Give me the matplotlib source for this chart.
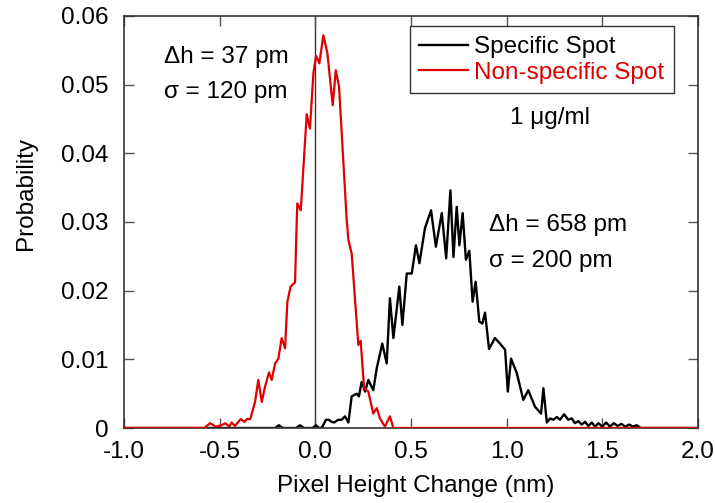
import matplotlib
matplotlib.use("Agg")
import matplotlib.pyplot as plt

plt.rcParams['font.family'] = ['Liberation Sans', 'DejaVu Sans']
plt.rcParams['axes.unicode_minus'] = False

# pixel height change (nm) and probability
x_spec = [-1.0, -0.21, -0.19, -0.17, -0.10, -0.08, -0.06, -0.015, 0.004, 0.02,
          0.033, 0.056, 0.07, 0.085, 0.098, 0.12, 0.138, 0.155, 0.173, 0.19,
          0.216, 0.228, 0.242, 0.26, 0.277, 0.303, 0.321, 0.35, 0.373, 0.39,
          0.408, 0.439, 0.455, 0.478, 0.504, 0.526, 0.544, 0.573, 0.605, 0.63,
          0.661, 0.684, 0.706, 0.722, 0.739, 0.753, 0.77, 0.787, 0.805, 0.822,
          0.838, 0.857, 0.873, 0.887, 0.908, 0.939, 0.965, 0.992, 1.006, 1.023,
          1.053, 1.087, 1.113, 1.148, 1.18, 1.192, 1.21, 1.227, 1.244, 1.262,
          1.279, 1.30, 1.322, 1.34, 1.357, 1.375, 1.392, 1.41, 1.427, 1.445,
          1.462, 1.48, 1.50, 1.52, 1.54, 1.56, 1.58, 1.60, 1.62, 1.64,
          1.66, 1.68, 1.70, 2.0]
p_spec = [0, 0, 0.0004, 0, 0, 0.0004, 0, 0, 0.0004, 0,
          0, 0.0012, 0.0012, 0.0009, 0.0008, 0.0012, 0.0012, 0.0017, 0.0008, 0.0046,
          0.0050, 0.0046, 0.0067, 0.0053, 0.0070, 0.0055, 0.0087, 0.0123, 0.0094, 0.0189,
          0.0131, 0.0206, 0.0150, 0.0225, 0.0225, 0.0266, 0.0240, 0.0291, 0.0317, 0.0264,
          0.0313, 0.0247, 0.0346, 0.0249, 0.0322, 0.0266, 0.0313, 0.0245, 0.0258, 0.0184,
          0.0213, 0.0155, 0.0152, 0.0168, 0.0115, 0.0131, 0.0123, 0.0114, 0.0053, 0.0101,
          0.0080, 0.0041, 0.0055, 0.0031, 0.0021, 0.0058, 0.0008, 0.0014, 0.0012, 0.0016,
          0.0012, 0.0020, 0.0012, 0.0014, 0.0007, 0.0010, 0.0005, 0.0009, 0.0003, 0.0008,
          0.0002, 0.0007, 0.0002, 0.0008, 0.0002, 0.0007, 0.0003, 0.0006, 0.0002, 0.0005,
          0.0002, 0.0004, 0, 0]

x_nons = [-1.0, -0.58, -0.55, -0.52, -0.49, -0.47, -0.45, -0.437, -0.42, -0.39,
          -0.37, -0.357, -0.34, -0.315, -0.298, -0.28, -0.263, -0.242, -0.228, -0.21,
          -0.193, -0.176, -0.158, -0.146, -0.129, -0.106, -0.097, -0.094, -0.076, -0.045,
          -0.028, -0.010, 0.004, 0.021, 0.042, 0.063, 0.091, 0.107, 0.124, 0.164,
          0.173, 0.19, 0.225, 0.237, 0.255, 0.277, 0.303, 0.321, 0.338, 0.364,
          0.39, 0.408, 2.0]
p_nons = [0, 0, 0.0007, 0.0002, 0.0004, 0.0007, 0.0002, 0.0008, 0.0003, 0.0013,
          0.0009, 0.0013, 0.0013, 0.0038, 0.0070, 0.0038, 0.0060, 0.0081, 0.0070, 0.0094,
          0.0101, 0.0131, 0.0116, 0.0184, 0.0206, 0.0212, 0.0303, 0.0327, 0.0317, 0.0457,
          0.0436, 0.0517, 0.0542, 0.0531, 0.0572, 0.0546, 0.0470, 0.0521, 0.0497, 0.0303,
          0.0274, 0.0254, 0.0121, 0.0127, 0.0058, 0.0053, 0.0021, 0.0029, 0.0014, 0.0002,
          0.0017, 0, 0]

xticks = [-1.0, -0.5, 0.0, 0.5, 1.0, 1.5, 2.0]
yticks = [0, 0.01, 0.02, 0.03, 0.04, 0.05, 0.06]
ytick_labels = ['0', '0.01', '0.02', '0.03', '0.04', '0.05', '0.06']

red = '#e00000'
fs = 17.5

fig = plt.figure(figsize=(7.15, 5.03), dpi=100)
ax = fig.add_axes([0.1734, 0.1491, 0.8028, 0.8191])

ax.axvline(0, color='#333333', lw=1.0, zorder=1)
ax.plot(x_spec, p_spec, color='black', lw=1.7, label='Specific Spot', zorder=2)
ax.plot(x_nons, p_nons, color=red, lw=1.6, label='Non-specific Spot', zorder=3)

ax.set_xlim(-1.0, 2.0)
ax.set_ylim(0, 0.06)
ax.set_xticks(xticks)
ax.set_xticklabels(['%.1f' % v for v in xticks])
ax.set_yticks(yticks)
ax.set_yticklabels(ytick_labels)
ax.tick_params(direction='in', top=True, right=True, length=7, width=1,
               labelsize=fs, color='#555555')
ax.tick_params(axis='x', pad=9)
ax.tick_params(axis='y', pad=11)
for s in ax.spines.values():
    s.set_linewidth(1.2)
    s.set_color('#333333')

ax.set_xlabel('Pixel Height Change (nm)', fontsize=fs)
ax.set_ylabel('Probability', fontsize=fs)
ax.xaxis.set_label_coords(0.509, -0.115)
ax.yaxis.set_label_coords(-0.151, 0.568)

ax.text(-0.79, 0.0540, '\u0394h = 37 pm', fontsize=fs, va='center')
ax.text(-0.79, 0.0490, '\u03c3 = 120 pm', fontsize=fs, va='center')
ax.text(0.91, 0.0296, '\u0394h = 658 pm', fontsize=fs, va='center')
ax.text(0.91, 0.0243, '\u03c3 = 200 pm', fontsize=fs, va='center')
ax.text(1.227, 0.0451, '1 \u03bcg/ml', fontsize=fs, va='center', ha='center')

leg = ax.legend(loc='upper right', bbox_to_anchor=(0.958, 0.975), fontsize=fs,
                frameon=True, fancybox=False, borderpad=0.4, labelspacing=0.15,
                handlelength=2.0, handletextpad=0.25, borderaxespad=0)
leg.get_frame().set_edgecolor('black')
leg.get_frame().set_linewidth(1.0)
leg.get_texts()[1].set_color(red)

fig.savefig('out.png', dpi=100)
